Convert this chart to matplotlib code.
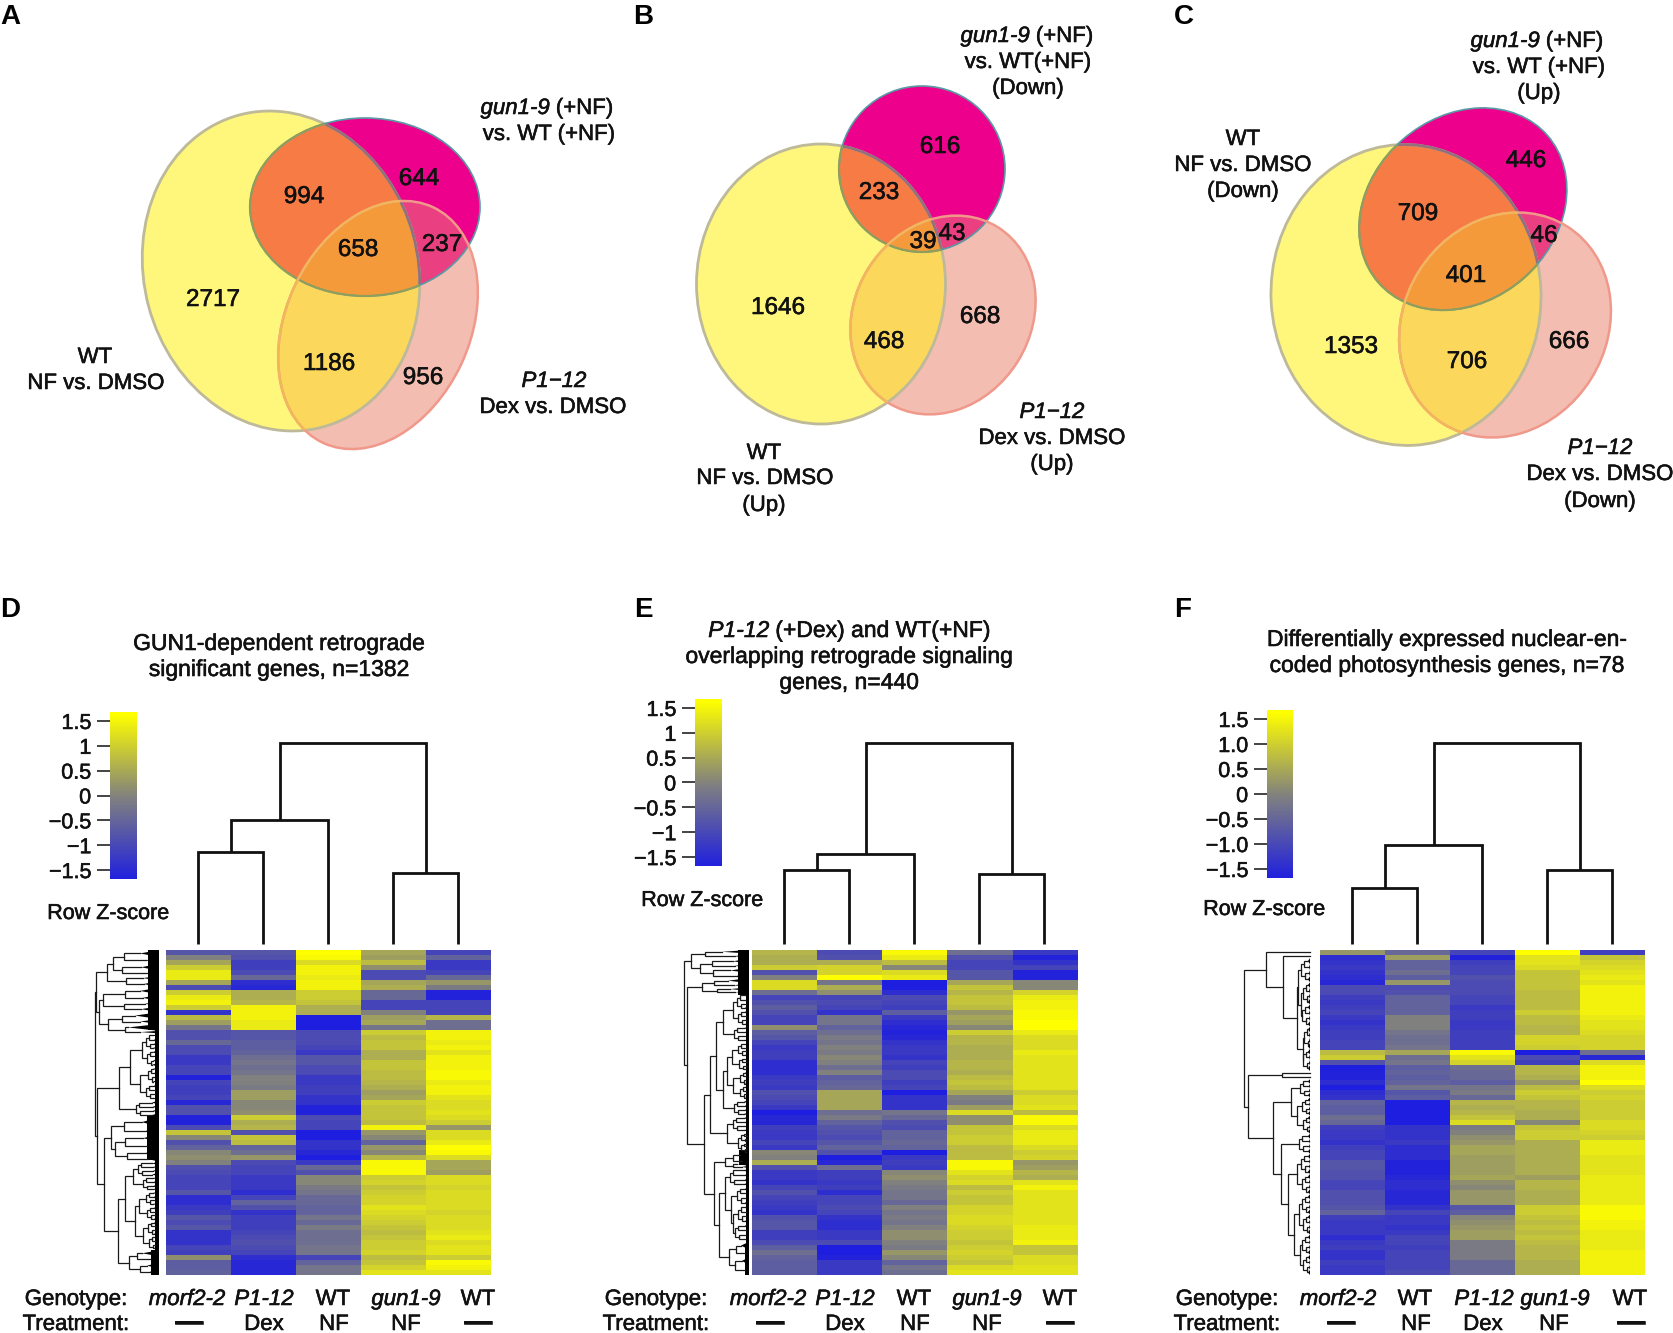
import numpy as np
import matplotlib
matplotlib.use('Agg')
import matplotlib.pyplot as plt
import matplotlib.patheffects as pe
from matplotlib.patches import Ellipse, Polygon, Rectangle
from matplotlib.path import Path
from matplotlib.colors import LinearSegmentedColormap
from matplotlib.cm import ScalarMappable
from matplotlib.colors import Normalize

plt.rcParams['font.family'] = ['Liberation Sans', 'DejaVu Sans']

W, H = 1674, 1333

# ---- venn data
venn_a_numbers = [('994', 304, 195), ('644', 419, 177), ('658', 358, 248), ('237', 442, 243),
                  ('2717', 213, 298), ('1186', 329, 362), ('956', 423, 376)]
venn_b_numbers = [('616', 940, 145), ('233', 879, 191), ('39', 923, 240), ('43', 952, 232),
                  ('1646', 778, 306), ('468', 884, 340), ('668', 980, 315)]
venn_c_numbers = [('446', 1526, 159), ('709', 1418, 212), ('46', 1544, 234), ('401', 1466, 274),
                  ('1353', 1351, 345), ('706', 1467, 360), ('666', 1569, 340)]

# cx, cy, width, height, tilt
venn_a_shapes = [(281, 271, 274, 323, -15), (365, 207, 230, 178, 0), (378, 325, 184, 260, 25)]
venn_b_shapes = [(821, 284, 249, 280, 0), (922, 169, 166, 166, 0), (943, 315, 176, 207, 32)]
venn_c_shapes = [(1406, 295, 270, 301, -3), (1463, 209, 184, 224, 49), (1505, 325, 203, 233, 32)]

# ---- heatmap data, rows top to bottom, z-scores
heat_d = [
    [-0.7, -0.7, 1.7, 0.5, -1.0], [0.0, -0.8, 1.6, 0.4, -0.5], [0.5, -1.1, 1.2, 0.8, -1.2],
    [1.0, -1.1, 1.5, 0.2, -1.2], [1.4, -0.9, 1.5, -0.9, -1.0], [1.4, -0.4, 1.4, -0.9, -0.4],
    [0.5, -1.4, 1.5, 0.5, 0.3], [-0.9, -1.5, 1.5, 0.6, -0.1], [1.0, 0.6, 1.0, -0.4, -1.6],
    [1.4, 0.6, 1.0, -0.4, -1.6], [1.5, 0.7, 0.9, -1.0, -1.0], [1.0, 1.5, 0.6, -1.0, -1.0],
    [-1.3, 1.5, 0.6, 0.0, -1.0], [0.8, 1.5, -1.7, 0.4, 0.7], [0.4, 1.4, -1.7, 0.5, -0.3],
    [-0.2, 1.4, -1.7, -0.2, -0.3], [-0.8, -0.7, -0.9, 1.0, 1.5], [-0.8, -0.7, -0.9, 0.8, 1.5],
    [-0.4, -0.6, -0.9, 0.9, 1.4], [-0.9, -0.6, -1.0, 0.9, 1.5], [-0.9, -0.5, -1.2, 0.6, 1.3],
    [-1.2, -0.3, -0.7, 0.6, 1.5], [-1.2, -0.2, -0.7, 0.9, 1.5], [-1.0, -0.3, -0.9, 0.9, 1.5],
    [-1.0, -0.2, -0.9, 0.8, 1.6], [-1.6, 0.0, -1.2, 0.8, 1.6], [-1.0, 0.0, -1.2, 0.7, 1.4],
    [-1.1, -0.1, -1.1, 0.6, 1.5], [-1.1, 0.4, -1.1, 0.4, 1.5], [-1.0, 0.4, -1.3, 0.5, 1.3],
    [-1.5, 0.1, -1.3, 1.0, 1.2], [-0.8, 0.1, -1.6, 0.9, 1.2], [-0.8, 0.2, -1.6, 0.9, 1.3],
    [-1.6, 1.0, -0.9, 0.9, 1.2], [-1.6, 0.6, -1.0, 0.8, 1.0], [-0.9, 0.7, -1.0, 1.5, 0.3],
    [0.9, -0.8, -1.7, 0.3, 1.2], [0.1, 0.9, -1.7, 0.1, 1.2], [-0.8, 0.8, -1.3, -0.5, 1.4],
    [-0.5, -0.5, -1.3, 0.3, 1.7], [0.1, -0.3, -1.5, 0.1, 1.6], [0.2, 0.3, -1.7, 0.7, 1.2],
    [0.0, -0.9, -1.2, 1.6, 0.5], [-0.8, -1.0, -0.4, 1.6, 0.5], [-0.9, -1.0, -0.8, 1.6, 0.4],
    [-1.0, -1.2, 0.1, 1.0, 1.2], [-1.0, -1.2, 0.1, 1.1, 1.2], [-1.0, -1.2, -0.1, 0.9, 1.1],
    [-0.7, -1.4, -0.2, 1.0, 1.2], [-1.4, -1.0, -0.4, 1.1, 1.2], [-1.4, -0.5, -0.4, 1.1, 1.2],
    [-1.2, -0.8, -0.5, 1.3, 1.2], [-1.1, -1.3, -0.5, 1.2, 1.1], [-0.7, -1.1, -0.2, 1.1, 1.2],
    [-0.9, -1.1, -0.4, 1.0, 1.2], [-0.7, -1.1, -0.1, 0.9, 1.2], [-1.3, -1.0, -0.3, 0.8, 1.3],
    [-1.3, -0.9, -0.3, 0.9, 1.4], [-1.3, -0.8, -0.3, 1.0, 1.2], [-1.0, -0.9, -0.2, 1.0, 1.3],
    [-1.1, -1.0, -0.2, 1.1, 1.3], [0.2, -1.4, -1.0, 0.8, 1.0], [-0.6, -1.5, -0.5, 0.9, 1.6],
    [-0.6, -1.5, -0.2, 1.1, 1.5], [-0.5, -1.5, -0.2, 1.3, 1.3],
]
heat_e = [
    [0.7, -0.9, 1.6, -0.3, -1.2], [0.6, -0.8, 1.4, -0.8, -1.6], [0.6, 0.6, 0.8, -1.0, -1.3],
    [1.0, 1.1, 0.1, -1.0, -1.0], [-0.8, 1.1, 1.2, -0.7, -1.6], [0.0, 1.7, 1.4, -0.7, -1.6],
    [1.2, -0.2, -1.7, 0.5, 0.1], [1.2, 0.6, -1.7, 0.9, 0.1], [-0.3, 0.2, -1.4, 0.7, 1.1],
    [-1.0, -1.0, -0.9, 0.9, 1.4], [-0.8, -0.9, -1.0, 0.9, 1.5], [-0.6, -1.0, -1.1, 0.8, 1.5],
    [-0.8, -1.3, -0.6, 0.3, 1.6], [-1.0, -0.2, -1.2, 0.5, 1.6], [-1.0, -0.2, -1.4, 0.4, 1.7],
    [0.2, -0.5, -1.5, 0.1, 1.7], [-0.6, -0.3, -1.6, 1.0, 1.4], [-0.7, -0.1, -1.5, 0.7, 1.2],
    [-1.0, -0.2, -1.3, 0.7, 1.2], [-1.2, 0.0, -1.2, 0.6, 1.2], [-1.1, -0.1, -1.2, 0.6, 1.4],
    [-1.1, 0.1, -1.3, 0.6, 1.3], [-1.4, 0.0, -1.0, 0.7, 1.3], [-1.4, -0.3, -1.1, 0.7, 1.3],
    [-1.4, 0.0, -0.9, 0.6, 1.3], [-1.2, -0.6, -0.9, 0.8, 1.3], [-1.1, -0.5, -1.1, 0.9, 1.3],
    [-1.2, -0.4, -1.0, 0.8, 1.3], [-0.8, 0.5, -1.7, 0.5, 1.0], [-0.9, 0.5, -1.3, 0.0, 1.2],
    [-1.0, 0.5, -1.3, -0.1, 1.2], [-1.2, 0.5, -1.3, 0.4, 1.3], [-1.7, -0.3, -0.2, 1.2, 0.8],
    [-1.5, -0.1, -0.4, 0.2, 1.6], [-1.5, -0.5, -0.8, 0.2, 1.6], [-1.1, -0.7, -0.9, 0.9, 1.2],
    [-1.2, -0.8, -0.5, 0.9, 1.4], [-1.2, -0.9, -0.5, 1.0, 1.4], [-1.0, -0.7, -0.4, 1.0, 1.4],
    [-1.2, -0.5, -0.5, 0.8, 1.2], [0.1, -0.8, -1.7, 0.8, 1.0], [0.0, -1.7, -1.2, 0.8, 1.1],
    [0.6, -1.5, -1.1, 1.6, 0.3], [-0.8, -0.3, -1.2, 1.6, 0.4], [-1.2, -1.1, 0.1, 1.3, 0.7],
    [-1.2, -1.1, 0.2, 1.1, 0.6], [-1.3, -1.2, 0.0, 1.2, 1.3], [-1.0, -1.1, -0.1, 0.8, 1.5],
    [-0.8, -1.4, -0.2, 1.0, 1.3], [-1.0, -1.0, -0.2, 0.9, 1.3], [-1.1, -1.0, -0.4, 0.9, 1.3],
    [-1.2, -0.9, 0.0, 1.1, 1.3], [-1.3, -1.0, -0.2, 1.1, 1.3], [-0.8, -1.3, -0.1, 1.2, 1.3],
    [-0.7, -1.4, -0.2, 1.2, 1.3], [-0.7, -1.4, 0.0, 1.1, 1.4], [-1.1, -1.2, 0.2, 1.0, 1.4],
    [-1.1, -1.2, 0.2, 1.0, 1.4], [-0.9, -0.9, 0.0, 0.9, 1.5], [-0.6, -1.7, -0.1, 1.0, 0.9],
    [-0.3, -1.7, 0.3, 1.1, 0.9], [-0.5, -1.6, 0.1, 1.0, 1.2], [-0.6, -1.2, -0.5, 0.9, 1.2],
    [-0.6, -1.2, -0.2, 1.2, 1.3], [-0.6, -1.2, -0.3, 1.3, 1.3],
]
heat_f = [
    [0.3, -0.4, -1.0, 1.7, -1.1], [-1.4, 0.4, -1.6, 1.3, 0.9], [-1.3, -0.5, -1.1, 1.3, 1.1],
    [-1.2, -0.5, -1.0, 1.2, 1.2], [-1.3, -0.3, -1.0, 0.9, 1.3], [-1.4, -0.6, -0.8, 0.9, 1.4],
    [-1.5, 0.3, -0.9, 0.9, 1.3], [-0.9, -0.9, -0.9, 0.9, 1.5], [-0.9, -0.8, -0.9, 0.8, 1.5],
    [-1.1, -0.5, -1.0, 0.8, 1.5], [-1.2, -0.5, -1.0, 0.8, 1.5], [-1.1, -0.5, -1.2, 0.8, 1.5],
    [-1.0, -0.5, -1.1, 1.0, 1.5], [-1.2, 0.0, -1.1, 0.8, 1.4], [-1.3, 0.0, -1.2, 0.8, 1.3],
    [-1.2, 0.0, -1.2, 0.7, 1.3], [-1.1, -0.2, -1.1, 0.7, 1.2], [-1.1, -0.3, -1.1, 1.1, 1.1],
    [-1.0, -0.3, -1.1, 1.1, 1.1], [-1.0, -0.2, -1.1, 1.0, 1.1], [0.8, 0.5, 1.6, -1.7, -0.3],
    [1.0, -0.3, 1.3, -0.9, -1.5], [-0.8, -0.2, 1.1, -1.1, 1.2], [-1.7, -0.6, -0.3, 0.7, 1.5],
    [-1.6, -0.5, -0.4, 0.7, 1.5], [-1.6, -0.6, -0.4, 0.6, 1.5], [-1.4, -0.5, -0.6, 0.3, 1.7],
    [-1.7, -0.2, -0.2, 0.8, 1.2], [-1.4, -0.7, -0.1, 1.0, 1.0], [-1.3, -0.6, -0.4, 0.9, 1.1],
    [-0.5, -1.7, 0.7, 0.7, 1.0], [-0.6, -1.7, 0.6, 0.7, 1.0], [-0.6, -1.7, 0.7, 0.6, 1.0],
    [-0.3, -1.7, 0.9, 0.6, 1.0], [-0.4, -1.7, 1.2, 0.1, 1.2], [-1.1, -1.3, -0.1, 0.9, 1.2],
    [-1.2, -1.3, 0.0, 1.0, 1.1], [-1.2, -1.3, 0.2, 1.0, 1.0], [-1.3, -1.2, 0.3, 0.6, 1.4],
    [-1.1, -1.4, 0.5, 0.6, 1.4], [-1.0, -1.4, 0.5, 0.6, 1.4], [-1.0, -1.4, 0.4, 0.6, 1.3],
    [-0.7, -1.6, 0.4, 0.6, 1.3], [-0.7, -1.6, 0.4, 0.6, 1.3], [-0.8, -1.6, 0.4, 0.6, 1.3],
    [-0.8, -1.5, 0.5, 0.4, 1.4], [-1.0, -1.4, 0.2, 0.7, 1.4], [-1.0, -1.4, 0.1, 0.7, 1.4],
    [-0.8, -1.5, 0.3, 0.6, 1.4], [-0.8, -1.5, 0.3, 0.6, 1.4], [-0.8, -1.5, 0.3, 0.6, 1.4],
    [-0.7, -1.3, -0.7, 1.0, 1.6], [-0.5, -1.0, -0.6, 1.0, 1.6], [-1.1, -1.2, 0.1, 0.9, 1.6],
    [-1.2, -1.2, 0.2, 0.8, 1.5], [-1.2, -1.3, 0.3, 0.9, 1.5], [-1.2, -1.2, 0.4, 0.8, 1.4],
    [-1.4, -1.0, 0.4, 0.9, 1.4], [-1.2, -1.0, -0.1, 0.8, 1.4], [-1.1, -1.1, -0.1, 0.7, 1.4],
    [-1.3, -1.0, -0.1, 0.7, 1.5], [-1.3, -1.0, -0.1, 0.7, 1.5], [-1.1, -1.0, -0.4, 0.6, 1.5],
    [-1.2, -1.0, -0.4, 0.6, 1.5], [-1.2, -0.9, -0.4, 0.6, 1.5],
]

# column merge heights above the heatmap: first pair, pair+third, last pair, root
col_merges_d = [91.5, 123.5, 70.5, 201]
col_merges_e = [74, 90, 70, 201]
col_merges_f = [56, 99, 74, 201]

genotypes_d = ['morf2-2', 'P1-12', 'WT', 'gun1-9', 'WT']
treatments_d = ['—', 'Dex', 'NF', 'NF', '—']
genotypes_f = ['morf2-2', 'WT', 'P1-12', 'gun1-9', 'WT']
treatments_f = ['—', 'NF', 'Dex', 'NF', '—']
cbar_labels_int = ['1.5', '1', '0.5', '0', '−0.5', '−1', '−1.5']
cbar_labels_dec = ['1.5', '1.0', '0.5', '0', '−0.5', '−1.0', '−1.5']
cbar_ticks = [1.5, 1, 0.5, 0, -0.5, -1, -1.5]

# solid black leaf bands of the row trees: first row, last row, band width
bands_d = [(0, 16, 11), (16, 33, 4), (33, 42, 12), (42, 60, 4), (60, 65, 8)]
bands_e = [(0, 9, 11), (9, 40, 2.5), (40, 43, 10), (43, 59, 2.5), (59, 65, 4)]
bands_f = []


def comb(x, tip, n=1):
    return (x, (x + 3, (n, tip), (n, tip + 1)), (x + 4, (n, tip + 1), (n, tip)))


# row trees: (x of merge, child, child), leaf cluster = (rows, x of tip)
tree_d = (95,
          (96,
           (107, (113, (124, (1.4, 140), (1.4, 146)), (122, (1.4, 141), (1, 147))), (126, (1, 143), (1.4, 144))),
           (99,
            (103, (125, (1.4, 140), (1.4, 143)), (124, (1, 145), (1.2, 141))),
            (108, (122, (1.4, 135), (1, 140)), (125, (1.4, 128), (0.5, 140))))),
          (97,
           (119,
            (130, (142, comb(146, 153, .85), comb(147, 152, .85)), (140, comb(148, 153, .85), comb(146, 154, .85))),
            comb(136, 152, .85)),
           (104,
            (111, (124, (2, 142), (1.5, 146)), (115, (125, (1.5, 143), (1.5, 147)), (127, (1.5, 146), (1, 148)))),
            (118,
             (125,
              (133, comb(138, 152, .75), comb(143, 153, .75)),
              (135, (139, comb(146, 153, .75), comb(147, 154, .75)), (143, comb(148, 154, .75), comb(149, 154, .75)))),
             (129, (137, (1.2, 142), (1.3, 150)), (140, (1.2, 147), (1.3, 150)))))))

tree_e = (684,
          (691, (705, (.7, 722), (1, 735)), (700, (712, (1, 733), (.8, 735)), (713, (1, 730), (1, 737)))),
          (687,
           (702, (714, (1, 728), (.8, 734)), (717, (.7, 730), (.5, 735))),
           (704,
            (710,
             (716,
              (723, (733, comb(737, 745, .8), comb(738, 745, .8)), comb(734, 744, .8)),
              (723, (727, (732, comb(738, 745, .7), comb(739, 746, .7)), (733, comb(740, 745, .7), comb(740, 745, .7))),
               comb(734, 744, .8))),
             (727, comb(733, 744, .8), (738, comb(741, 746, .5), comb(741, 746, .5)))),
            (714,
             (725, (733, (1, 740), (1, 742)), (733, (.5, 737), (.5, 742))),
             (719,
              (725, comb(730, 744, .9), (731, comb(737, 745, .9), (733, comb(738, 745, .9), comb(735, 745, .9)))),
              (729, (736, (1.5, 741), (1.5, 745)), (735, (1.5, 742), (2, 745))))))))

tree_f = (1244,
          (1266, (.8, 1310),
           (1283, (.8, 1310),
            (1297,
             (1298, comb(1301, 1308, 1.2), (1301, comb(1303, 1308, 1.1), comb(1302, 1308, 1.1))),
             (1303, comb(1304, 1308, 1.1), comb(1303, 1308, 1.1))))),
          (1248,
           (1282, (.8, 1310), (.8, 1310)),
           (1273,
            (1291, comb(1300, 1308, .9), (1297, comb(1302, 1308, .9), comb(1303, 1308, .9))),
            (1281, comb(1299, 1308),
             (1288, (1297, comb(1301, 1308), comb(1302, 1308)),
              (1294, (1299, comb(1302, 1308), comb(1303, 1308)), (1300, comb(1302, 1308), comb(1303, 1308))))))))

# ---- drawing
fig = plt.figure(figsize=(W / 100, H / 100), dpi=100)
ax = fig.add_axes([0, 0, 1, 1])
ax.set_xlim(0, W)
ax.set_ylim(H, 0)
ax.axis('off')

cmap = LinearSegmentedColormap.from_list('bgy', ['#1E1EE0', '#808080', '#FFFF00'])
LIM = 1.68
HEAVY = [pe.withStroke(linewidth=0.4, foreground='#111111')]


def px_axes(x0, y0, x1, y1):
    return fig.add_axes([x0 / W, 1 - y1 / H, (x1 - x0) / W, (y1 - y0) / H])


def label(x, y, s, size=16, **kw):
    ax.text(x, y + 8, s, fontsize=size, ha='center', va='baseline', color='#111111',
            path_effects=HEAVY, **kw)


def mixed(x, y, parts, size=16):
    # regular and italic pieces on one line, centred as a whole
    rend = fig.canvas.get_renderer()
    items = [ax.text(0, y + 8, s, fontsize=size, style=st, va='baseline', ha='left', color='#111111',
                     path_effects=HEAVY)
             for s, st in parts]
    gap = 6
    widths = [t.get_window_extent(rend).width for t in items]
    pos = x - (sum(widths) + gap * (len(items) - 1)) / 2
    for t, w in zip(items, widths):
        t.set_x(pos)
        pos += w + gap


def ell(spec, **kw):
    cx, cy, w, h, tilt = spec
    return Ellipse((cx, cy), w, h, angle=tilt, **kw)


def outline(spec):
    cx, cy, w, h, tilt = spec
    t = np.linspace(0, 2 * np.pi, 400)
    th = np.radians(tilt)
    return np.c_[cx + w / 2 * np.cos(t) * np.cos(th) - h / 2 * np.sin(t) * np.sin(th),
                 cy + w / 2 * np.cos(t) * np.sin(th) + h / 2 * np.sin(t) * np.cos(th)]


def venn(shapes, numbers):
    yel, mag, sal = shapes
    s0 = ell(sal, fc='#F4BDB1', ec='none')
    y0 = ell(yel, fc='#FFF67C', ec='none')
    m0 = ell(mag, fc='#EC008C', ec='none')
    for p in (s0, y0, m0):
        ax.add_patch(p)

    def clipped(spec, clip, **kw):
        p = ell(spec, **kw)
        ax.add_patch(p)
        p.set_clip_path(clip)

    clipped(sal, y0, fc='#FBD85C', ec='none')
    clipped(sal, m0, fc='#EA3F80', ec='none')
    clipped(mag, y0, fc='#F77B45', ec='none')
    a, b = outline(mag), outline(yel)
    pts = np.vstack([a[Path(b).contains_points(a)], b[Path(a).contains_points(b)]])
    c = pts.mean(axis=0)
    pts = pts[np.argsort(np.arctan2(pts[:, 1] - c[1], pts[:, 0] - c[0]))]
    both = Polygon(pts, closed=True, fill=False, ec='none')
    ax.add_patch(both)
    clipped(sal, both, fc='#F59A3A', ec='none')

    ax.add_patch(ell(yel, fc='none', ec='#BDB999', lw=2.0))
    clipped(yel, m0, fc='none', ec='#93707C', lw=2.0)
    ax.add_patch(ell(mag, fc='none', ec='#5A9AA4', lw=1.2))
    clipped(mag, y0, fc='none', ec='#8F9E5C', lw=1.6)
    ax.add_patch(ell(sal, fc='none', ec='#F0988A', lw=1.8))
    clipped(sal, y0, fc='none', ec='#F2B75A', lw=1.7)
    for s, x, y in numbers:
        label(x, y, s, size=17.5)


def draw_tree(node, y, top, row_h, edge):
    if len(node) == 2:
        n, tip = node
        yc = top + (y + n / 2) * row_h
        ax.add_patch(Polygon([(tip, yc), (edge, top + y * row_h), (edge, top + (y + n) * row_h)],
                             closed=True, fc='black', ec='none'))
        return tip, yc, y + n
    x, first, second = node
    x1, y1, nxt = draw_tree(first, y, top, row_h, edge)
    x2, y2, nxt = draw_tree(second, nxt, top, row_h, edge)
    ax.plot([x1, x, x, x2], [y1, y1, y2, y2], color='#1a1a1a', lw=0.9, solid_joinstyle='miter')
    return x, (y1 + y2) / 2, nxt


def count_rows(node):
    if len(node) == 2:
        return node[0]
    return count_rows(node[1]) + count_rows(node[2])


def heat_panel(x0, x1, matrix, merges, tree, tree_edge, bands, cbar_box, tick_labels,
               row_z_x, row_z_y, genotypes, treatments, geno_x, treat_x, head_x):
    top, bottom, base = 950, 1275, 943.5
    hax = px_axes(x0, top, x1, bottom)
    hax.imshow(np.array(matrix), cmap=cmap, vmin=-LIM, vmax=LIM, aspect='auto', interpolation='nearest')
    hax.axis('off')
    row_h = (bottom - top) / len(matrix)

    cols = x0 + (x1 - x0) * (np.arange(5) + 0.5) / 5
    h01, h012, h34, root = merges
    seg = dict(color='#111111', lw=2.0, solid_joinstyle='miter', solid_capstyle='butt')
    mid01 = (cols[0] + cols[1]) / 2
    mid012 = (mid01 + cols[2]) / 2
    mid34 = (cols[3] + cols[4]) / 2
    ax.plot([cols[0], cols[0], cols[1], cols[1]], [base, base - h01, base - h01, base], **seg)
    ax.plot([mid01, mid01, cols[2], cols[2]], [base - h01, base - h012, base - h012, base], **seg)
    ax.plot([cols[3], cols[3], cols[4], cols[4]], [base, base - h34, base - h34, base], **seg)
    ax.plot([mid012, mid012, mid34, mid34], [base - h012, base - root, base - root, base - h34], **seg)

    draw_tree(tree, 0, top, (bottom - top) / count_rows(tree), tree_edge)
    for r0, r1, width in bands:
        ax.add_patch(Rectangle((tree_edge - width, top + r0 * row_h), width, (r1 - r0) * row_h,
                               fc='black', ec='none'))

    cax = px_axes(*cbar_box)
    cb = fig.colorbar(ScalarMappable(Normalize(-LIM, LIM), cmap), cax=cax)
    cb.outline.set_visible(False)
    cb.solids.set_edgecolor('face')
    cax.yaxis.set_ticks_position('left')
    cb.set_ticks(cbar_ticks)
    cb.set_ticklabels(tick_labels)
    cax.tick_params(length=9.5, width=1.1, labelsize=15.5, pad=4, colors='#111111')
    for t in cax.get_yticklabels():
        t.set_path_effects(HEAVY)
    label(row_z_x, row_z_y, 'Row Z-score', size=15.5)

    label(head_x, 1297, 'Genotype:')
    label(head_x, 1322, 'Treatment:')
    for s, gx, t, tx in zip(genotypes, geno_x, treatments, treat_x):
        italic = s != 'WT'
        label(gx, 1297, s, style='italic' if italic else 'normal')
        if t == '—':
            label(tx, 1322, t, size=20, fontweight='bold')
        else:
            label(tx, 1322, t)


# venn panels
venn(venn_a_shapes, venn_a_numbers)
venn(venn_b_shapes, venn_b_numbers)
venn(venn_c_shapes, venn_c_numbers)

mixed(547, 106, [('gun1-9', 'italic'), ('(+NF)', 'normal')])
label(549, 132, 'vs. WT (+NF)')
label(95, 355, 'WT')
label(96, 381, 'NF vs. DMSO')
label(554, 379, 'P1−12', style='italic')
label(553, 405, 'Dex vs. DMSO')

mixed(1027, 34, [('gun1-9', 'italic'), ('(+NF)', 'normal')])
label(1028, 60, 'vs. WT(+NF)')
label(1028, 86, '(Down)')
label(764, 451, 'WT')
label(765, 476, 'NF vs. DMSO')
label(764, 503, '(Up)')
label(1052, 410, 'P1−12', style='italic')
label(1052, 436, 'Dex vs. DMSO')
label(1052, 462, '(Up)')

mixed(1537, 39, [('gun1-9', 'italic'), ('(+NF)', 'normal')])
label(1539, 65, 'vs. WT (+NF)')
label(1539, 91, '(Up)')
label(1243, 137, 'WT')
label(1243, 163, 'NF vs. DMSO')
label(1243, 189, '(Down)')
label(1600, 446, 'P1−12', style='italic')
label(1600, 472, 'Dex vs. DMSO')
label(1600, 499, '(Down)')

# heatmap panels
heat_panel(166, 491, heat_d, col_merges_d, tree_d, 159, bands_d, (110, 712, 137, 879), cbar_labels_int,
           108, 911, genotypes_d, treatments_d,
           [187, 264, 333, 406, 478], [189, 264, 334, 406, 478], 76)
heat_panel(752, 1077, heat_e, col_merges_e, tree_e, 749, bands_e, (695, 699, 722, 866), cbar_labels_int,
           702, 898, genotypes_d, treatments_d,
           [768, 845, 914, 987, 1060], [770, 845, 915, 987, 1060], 656)
heat_panel(1320, 1645, heat_f, col_merges_f, tree_f, 1310, bands_f, (1267, 710, 1293, 878), cbar_labels_dec,
           1264, 907, genotypes_f, treatments_f,
           [1338, 1415, 1484, 1555, 1630], [1341, 1416, 1483, 1554, 1631], 1227)

label(279, 642, 'GUN1-dependent retrograde', size=16.5)
label(279, 668, 'significant genes, n=1382', size=16.5)
mixed(849, 629, [('P1-12', 'italic'), ('(+Dex) and WT(+NF)', 'normal')], size=16.5)
label(849, 655, 'overlapping retrograde signaling', size=16.5)
label(849, 681, 'genes, n=440', size=16.5)
label(1447, 638, 'Differentially expressed nuclear-en-', size=16.5)
label(1447, 664, 'coded photosynthesis genes, n=78', size=16.5)

# panel letters
panel_letters = [('A', 0, 24), ('B', 633, 24), ('C', 1174, 24), ('D', 0, 617), ('E', 634, 617), ('F', 1174, 617)]
for s, x, y in panel_letters:
    ax.text(x, y, s, fontsize=20, fontweight='bold', ha='left', va='baseline', color='black')

fig.savefig('out.png', dpi=100)
